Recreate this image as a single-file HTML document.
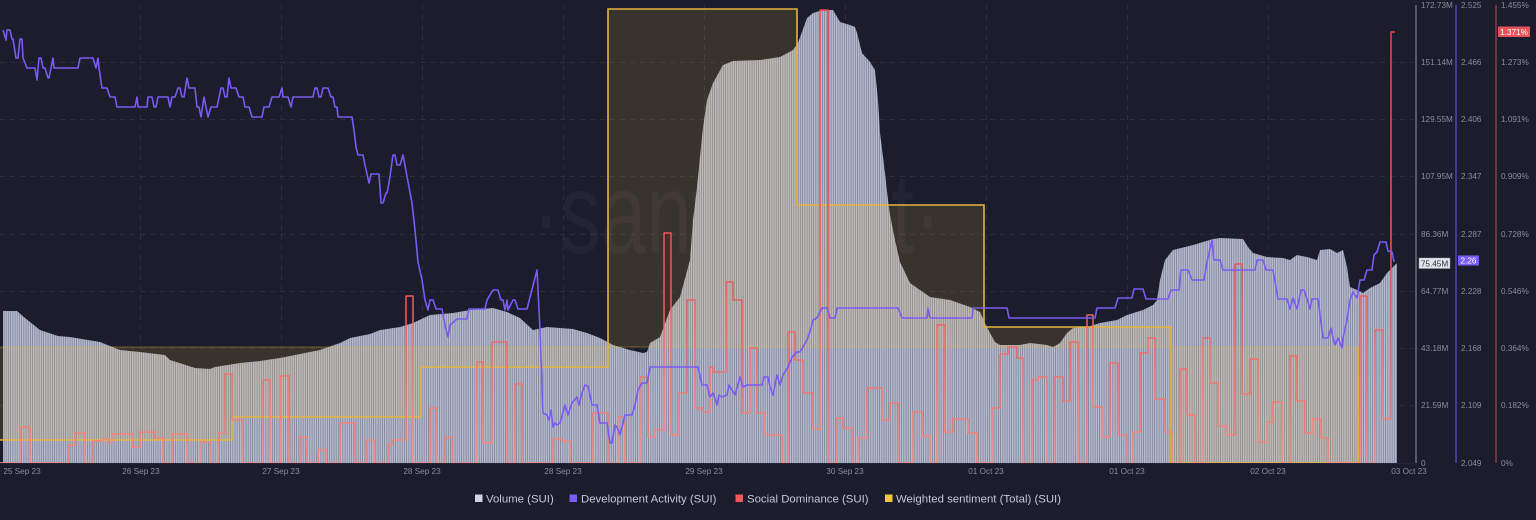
<!DOCTYPE html>
<html>
<head>
<meta charset="utf-8">
<style>
html,body{margin:0;padding:0;background:#1b1c2c;}
body{width:1536px;height:520px;overflow:hidden;font-family:"Liberation Sans",Arial,sans-serif;}
svg{display:block;}
</style>
</head>
<body>
<svg width="1536" height="520" viewBox="0 0 1536 520" xmlns="http://www.w3.org/2000/svg">
<defs>
<pattern id="bars" x="0" y="0" width="2.2" height="10" patternUnits="userSpaceOnUse">
<rect x="0" y="0" width="2.2" height="10" fill="#767b91"/>
<rect x="0" y="0" width="1.5" height="10" fill="#b6bacd"/>
</pattern>
<linearGradient id="redg" x1="0" y1="0" x2="0" y2="463" gradientUnits="userSpaceOnUse">
<stop offset="0" stop-color="#e8464c"/>
<stop offset="0.6" stop-color="#ec5a58"/>
<stop offset="1" stop-color="#f58a80"/>
</linearGradient>
</defs>
<rect width="1536" height="520" fill="#1b1c2c"/>

<!-- grid -->
<g stroke="#2b2d41" stroke-width="1" stroke-dasharray="5,5" fill="none">
<line x1="0" y1="62.5" x2="1414" y2="62.5"/>
<line x1="0" y1="119.5" x2="1414" y2="119.5"/>
<line x1="0" y1="176.5" x2="1414" y2="176.5"/>
<line x1="0" y1="234.5" x2="1414" y2="234.5"/>
<line x1="0" y1="291.5" x2="1414" y2="291.5"/>
<line x1="0" y1="348.5" x2="1414" y2="348.5"/>
<line x1="0" y1="405.5" x2="1414" y2="405.5"/>
<line x1="140.5" y1="5" x2="140.5" y2="463"/>
<line x1="281.5" y1="5" x2="281.5" y2="463"/>
<line x1="422.5" y1="5" x2="422.5" y2="463"/>
<line x1="563.5" y1="5" x2="563.5" y2="463"/>
<line x1="704.5" y1="5" x2="704.5" y2="463"/>
<line x1="845.5" y1="5" x2="845.5" y2="463"/>
<line x1="986.5" y1="5" x2="986.5" y2="463"/>
<line x1="1127.5" y1="5" x2="1127.5" y2="463"/>
<line x1="1268.5" y1="5" x2="1268.5" y2="463"/>
</g>

<!-- watermark -->
<text x="737" y="253" text-anchor="middle" font-family="Liberation Sans, sans-serif" font-size="115" fill="#ffffff" fill-opacity="0.04" transform="translate(737,0) scale(0.71,1) translate(-737,0)">·santiment·</text>

<!-- volume -->
<path fill="url(#bars)" d="M3,463 L3,311 L17,311 L25,318 L40,330 L58,336 L70,337 L100,342 L110,346 L120,350 L140,352 L165,355 L170,360 L195,368 L210,369 L215,367 L240,363 L250,362 L260,361 L280,358 L300,354 L320,350 L340,343 L350,338 L370,334 L380,330 L400,327 L413,323 L430,315 L453,313 L470,310 L493,308 L507,312 L520,318 L533,330 L547,327 L560,328 L573,329 L587,333 L600,338 L613,345 L630,350 L643,353 L647,352 L650,343 L660,337 L670,310 L680,297 L690,260 L693,220 L697,187 L703,127 L707,100 L713,83 L723,65 L733,61 L760,60 L780,57 L793,50 L798,43 L807,18 L813,13 L823,10 L833,10 L840,22 L850,25 L855,27 L857,33 L862,53 L870,62 L875,70 L878,100 L880,133 L885,173 L888,200 L890,215 L895,240 L900,262 L910,283 L920,290 L930,297 L950,300 L970,307 L980,312 L985,323 L990,333 L995,342 L1000,345 L1020,345 L1030,343 L1047,345 L1053,347 L1060,343 L1067,333 L1073,328 L1087,327 L1100,323 L1117,320 L1127,315 L1143,310 L1153,305 L1157,300 L1160,280 L1165,260 L1173,250 L1193,245 L1213,239 L1220,238 L1243,239 L1248,247 L1253,253 L1267,257 L1283,258 L1290,260 L1297,255 L1307,257 L1317,260 L1320,250 L1330,249 L1337,253 L1343,250 L1347,267 L1350,287 L1357,290 L1363,293 L1370,288 L1380,283 L1387,273 L1393,267 L1397,263 L1397,463 Z"/>

<!-- weighted sentiment fill -->
<path fill="#f0be3c" fill-opacity="0.14" d="M0,347 V440 H232 V417 H421 V367 H608 V9 H797 V205 H984 V327 H1171 V463 H1358 V347 Z"/>
<line x1="0" y1="347" x2="1358" y2="347" stroke="#e6b43c" stroke-opacity="0.4" stroke-width="1"/>
<path fill="none" stroke="#e6b43c" stroke-width="1.6" d="M0,440 H232 V417 H421 V367 H608 V9 H797 V205 H984 V327 H1171 V463 H1358 V347"/>

<!-- social dominance -->
<path fill="none" stroke="url(#redg)" stroke-width="1.5" stroke-linejoin="round" d="M0,463 H20 V427 H30 V463 H69 V445 H75 V433 H85 V463 H93 V441 H103 V439 H108 V443 H112 V434 H132 V447 H140 V432 H155 V438 H163 V463 H172 V434 H187 V463 H200 V442 H210 V463 H218 V433 H225 V374 H232 V420 H242 V463 H263 V380 H270 V463 H281 V376 H289 V463 H300 V437 H307 V463 H318 V450 H326 V463 H340 V423 H355 V463 H366 V440 H374 V463 H388 V445 H392 V440 H406 V296 H413 V463 H430 V408 H437 V463 H445 V437 H452 V463 H477 V362 H483 V443 H492 V342 H507 V463 H515 V384 H522 V463 H553 V439 H562 V441 H570 V463 H593 V413 H608 V463 H618 V417 H625 V463 H640 V377 H648 V437 H655 V430 H664 V233 H671 V435 H679 V393 H687 V300 H695 V408 H703 V412 H710 V367 H713 V372 H726 V282 H733 V300 H742 V413 H750 V348 H757 V413 H765 V435 H782 V463 H788 V332 H795 V360 H803 V393 H813 V429 H820 V10 H828 V463 H837 V418 H843 V428 H852 V463 H858 V438 H867 V388 H882 V420 H890 V403 H898 V463 H913 V412 H922 V436 H930 V463 H937 V325 H945 V432 H953 V419 H968 V433 H977 V463 H992 V408 H1000 V354 H1008 V347 H1017 V358 H1023 V463 H1032 V380 H1038 V377 H1047 V463 H1055 V377 H1063 V401 H1070 V342 H1078 V463 H1087 V315 H1093 V407 H1102 V437 H1110 V363 H1118 V435 H1127 V463 H1133 V432 H1140 V353 H1148 V338 H1155 V399 H1165 V432 H1172 V463 H1180 V369 H1187 V415 H1195 V463 H1203 V338 H1210 V383 H1218 V426 H1227 V435 H1235 V264 H1242 V394 H1250 V359 H1258 V442 H1267 V422 H1273 V402 H1282 V463 H1290 V356 H1297 V401 H1305 V433 H1313 V419 H1321 V438 H1328 V463 H1360 V296 H1367 V463 H1375 V330 H1383 V419 H1391 V32 H1395"/>

<!-- development activity -->
<polyline fill="none" stroke="#7b5af2" stroke-width="1.6" stroke-linejoin="round" points="3,30 6,40 7,30 10,30 12,39 13,39 16,58 18,58 20,39 22,39 23,58 27,68 35,68 37,80 39,58 41,58 43,68 45,68 48,78 49,78 53,58 54,68 78,68 80,58 93,58 96,68 98,58 99,68 102,88 107,88 110,97 115,97 117,107 135,107 137,97 138,107 147,107 148,97 152,97 154,107 156,107 158,97 168,97 170,107 172,97 175,97 178,88 180,88 182,97 184,97 187,78 189,88 195,88 197,107 199,107 201,117 204,97 208,117 211,107 217,107 221,88 223,88 225,97 227,97 229,78 231,88 236,88 239,97 243,97 245,107 249,107 252,117 262,117 264,107 269,107 272,97 279,97 282,88 283,97 288,97 291,107 293,97 313,97 315,88 317,88 319,97 321,97 323,88 328,88 331,97 333,97 335,107 337,107 338,117 352,117 354,130 356,147 358,155 363,155 365,165 369,183 371,174 379,174 381,203 383,203 386,193 387,193 389,183 393,155 395,155 397,165 400,165 403,155 412,203 415,230 418,262 422,280 425,300 428,310 430,300 433,300 436,309 442,309 445,325 448,337 450,325 457,319 467,319 469,309 485,309 487,300 493,290 498,290 501,300 503,300 505,310 507,300 508,310 513,300 515,300 518,309 527,309 537,270 540,330 543,413 547,415 549,420 551,410 553,427 555,423 557,425 560,423 565,405 568,415 572,403 577,397 579,405 582,393 585,385 588,386 592,405 597,405 600,423 607,423 610,443 612,443 615,425 617,427 620,435 625,415 632,415 635,405 638,390 642,383 647,383 650,367 698,367 702,385 707,385 710,397 713,393 717,405 719,395 722,397 727,395 729,385 735,395 740,377 743,387 747,385 762,385 764,377 768,377 770,387 773,395 775,385 777,375 780,385 783,375 788,367 792,357 797,352 800,352 807,340 811,328 813,320 817,318 822,308 827,308 830,318 835,318 837,308 898,308 902,318 927,318 928,308 930,318 972,318 973,308 1007,308 1009,318 1095,318 1097,308 1115,308 1118,298 1132,298 1134,289 1143,289 1146,299 1168,299 1171,290 1179,290 1181,270 1188,270 1192,280 1204,280 1207,262 1212,240 1214,260 1220,260 1223,270 1255,270 1257,260 1263,260 1266,270 1273,270 1278,299 1287,299 1290,309 1293,298 1297,309 1301,290 1304,290 1307,299 1310,309 1312,299 1318,299 1323,338 1328,338 1331,328 1333,338 1335,345 1338,338 1342,348 1343,338 1347,320 1350,300 1353,292 1357,298 1360,280 1364,280 1367,270 1372,270 1374,255 1377,252 1380,242 1386,242 1388,251 1392,252 1394,262"/>

<!-- baseline -->
<line x1="0" y1="463.5" x2="1414" y2="463.5" stroke="#23243a" stroke-width="1"/>

<!-- axes lines -->
<line x1="1416" y1="5" x2="1416" y2="463" stroke="#6c6e7e" stroke-width="1.5"/>
<line x1="1456" y1="5" x2="1456" y2="463" stroke="#5840c0" stroke-width="1.5"/>
<line x1="1496" y1="5" x2="1496" y2="463" stroke="#8e3a4a" stroke-width="1.5"/>

<!-- axis labels -->
<g font-family="Liberation Sans, sans-serif" font-size="8.2" fill="#8a8c9c">
<text x="1421" y="8">172.73M</text>
<text x="1421" y="65">151.14M</text>
<text x="1421" y="122">129.55M</text>
<text x="1421" y="179">107.95M</text>
<text x="1421" y="237">86.36M</text>
<text x="1421" y="294">64.77M</text>
<text x="1421" y="351">43.18M</text>
<text x="1421" y="408">21.59M</text>
<text x="1421" y="466">0</text>
<text x="1461" y="8">2.525</text>
<text x="1461" y="65">2.466</text>
<text x="1461" y="122">2.406</text>
<text x="1461" y="179">2.347</text>
<text x="1461" y="237">2.287</text>
<text x="1461" y="294">2.228</text>
<text x="1461" y="351">2.168</text>
<text x="1461" y="408">2.109</text>
<text x="1461" y="466">2.049</text>
<text x="1501" y="8">1.455%</text>
<text x="1501" y="65">1.273%</text>
<text x="1501" y="122">1.091%</text>
<text x="1501" y="179">0.909%</text>
<text x="1501" y="237">0.728%</text>
<text x="1501" y="294">0.546%</text>
<text x="1501" y="351">0.364%</text>
<text x="1501" y="408">0.182%</text>
<text x="1501" y="466">0%</text>
</g>

<!-- badges -->
<rect x="1419" y="258" width="31" height="10.5" fill="#e4e5ec" stroke="#9a9cac" stroke-width="0.5"/>
<text x="1434.5" y="266.3" text-anchor="middle" font-family="Liberation Sans, sans-serif" font-size="8.2" fill="#2a2b3a">75.45M</text>
<rect x="1458" y="255.5" width="21" height="10" fill="#7b5cf5"/>
<text x="1468.5" y="263.5" text-anchor="middle" font-family="Liberation Sans, sans-serif" font-size="8.2" fill="#ffffff">2.26</text>
<rect x="1498" y="26.5" width="32" height="10.5" fill="#e8505a"/>
<text x="1514" y="34.8" text-anchor="middle" font-family="Liberation Sans, sans-serif" font-size="8.2" fill="#ffffff">1.371%</text>

<!-- x axis labels -->
<g font-family="Liberation Sans, sans-serif" font-size="8.2" fill="#8a8c9c" text-anchor="middle">
<text x="22" y="474">25 Sep 23</text>
<text x="141" y="474">26 Sep 23</text>
<text x="281" y="474">27 Sep 23</text>
<text x="422" y="474">28 Sep 23</text>
<text x="563" y="474">28 Sep 23</text>
<text x="704" y="474">29 Sep 23</text>
<text x="845" y="474">30 Sep 23</text>
<text x="986" y="474">01 Oct 23</text>
<text x="1127" y="474">01 Oct 23</text>
<text x="1268" y="474">02 Oct 23</text>
<text x="1409" y="474">03 Oct 23</text>
</g>

<!-- legend -->
<g font-family="Liberation Sans, sans-serif" font-size="11.4" fill="#c6c8d4">
<rect x="475" y="494.5" width="7.5" height="7.5" fill="#d2d4e2"/>
<text x="486" y="502.5">Volume (SUI)</text>
<rect x="569.5" y="494.5" width="7.5" height="7.5" fill="#7b5cf5"/>
<text x="581" y="502.5">Development Activity (SUI)</text>
<rect x="735.5" y="494.5" width="7.5" height="7.5" fill="#ef5a5a"/>
<text x="747" y="502.5">Social Dominance (SUI)</text>
<rect x="885" y="494.5" width="7.5" height="7.5" fill="#f5c542"/>
<text x="896" y="502.5">Weighted sentiment (Total) (SUI)</text>
</g>
</svg>
</body>
</html>
